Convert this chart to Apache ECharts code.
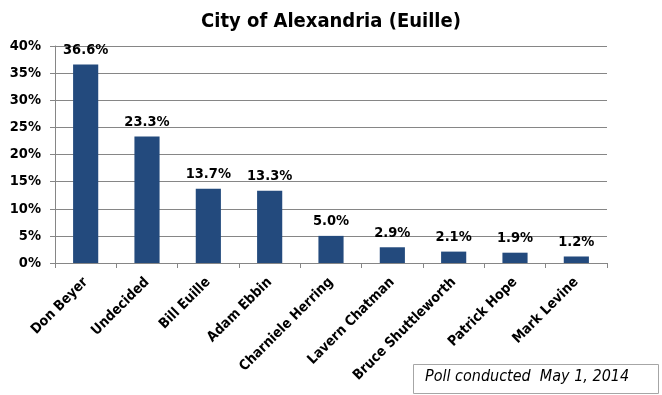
<!DOCTYPE html>
<html><head><meta charset="utf-8">
<script src="https://cdn.jsdelivr.net/npm/echarts@6/dist/echarts.min.js"></script>
<style>html,body{margin:0;padding:0;background:#fff}#c{width:662px;height:395px}</style>
</head><body><div id="c"></div>
<script>
const categories = ["Don Beyer","Undecided","Bill Euille","Adam Ebbin","Charniele Herring","Lavern Chatman","Bruce Shuttleworth","Patrick Hope","Mark Levine"];
const values = [36.6, 23.3, 13.7, 13.3, 5.0, 2.9, 2.1, 1.9, 1.2];
const titleText = "City of Alexandria (Euille)";
const noteText = "Poll conducted  May 1, 2014";
const FONT = '"DejaVu Sans Condensed", "DejaVu Sans", sans-serif';

const chart = echarts.init(document.getElementById('c'), null, {renderer:'canvas'});
chart.setOption({
  animation:false,
  backgroundColor:'#fff',
  title:{text:titleText,left:'center',top:7,textStyle:{fontFamily:FONT,fontWeight:'bold',fontSize:20,color:'#000'}},
  grid:{left:55,right:55,top:46,bottom:132,containLabel:false},
  xAxis:{type:'category',data:categories,
    axisLine:{lineStyle:{color:'#868686'}},
    axisTick:{show:true,alignWithLabel:false,length:5,lineStyle:{color:'#868686'}},
    axisLabel:{rotate:45,interval:0,margin:17,fontFamily:FONT,fontWeight:'bold',fontSize:14,color:'#000'}},
  yAxis:{type:'value',min:0,max:40,interval:5,
    axisLine:{show:true,lineStyle:{color:'#868686'}},
    axisTick:{show:true,length:5,lineStyle:{color:'#868686'}},
    splitLine:{lineStyle:{color:'#868686'}},
    axisLabel:{formatter:v=>v+'%',margin:14,fontFamily:FONT,fontWeight:'bold',fontSize:14.5,color:'#000'}},
  series:[{type:'bar',data:values,barWidth:'41%',
    itemStyle:{color:'#234A7D'},
    label:{show:true,position:'top',distance:7,formatter:p=>p.value.toFixed(1)+'%',fontFamily:FONT,fontWeight:'bold',fontSize:14.5,color:'#000'}}],
  graphic:[
    {type:'rect',left:413,top:364,shape:{width:245,height:29},style:{fill:'#fff',stroke:'#a6a6a6',lineWidth:1}},
    {type:'text',left:425,top:369,style:{text:noteText,font:'italic 16px "DejaVu Sans Condensed", "DejaVu Sans"',fill:'#000'}}
  ]
});
</script></body></html>
